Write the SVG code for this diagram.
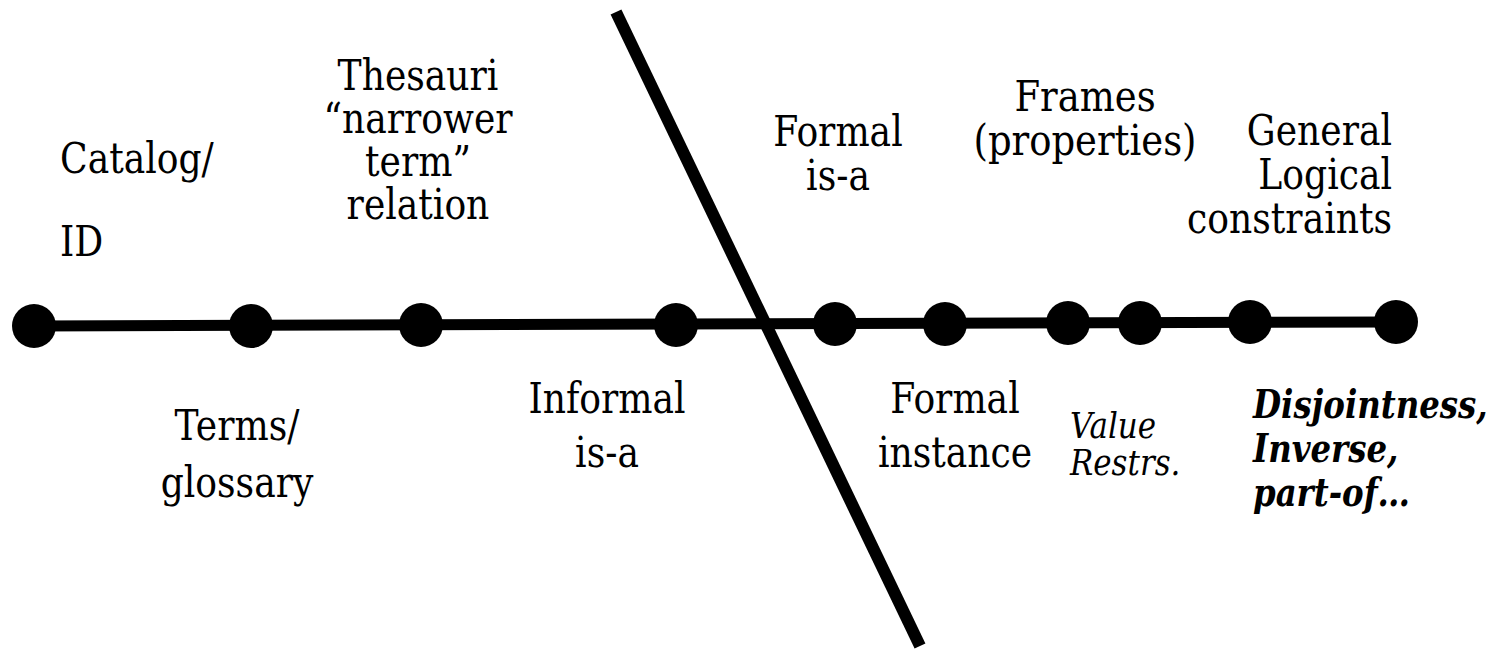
<svg xmlns="http://www.w3.org/2000/svg" width="1489" height="651" viewBox="0 0 1489 651">
  <style>
    text { font-family: "DejaVu Serif", serif; fill: #000; }
    .lbl { font-size: 42px; }
    .it { font-style: italic; font-size: 36px; }
    .bi { font-style: italic; font-weight: bold; font-size: 40px; }
    .dot { fill: #000; }
  </style>
  <rect width="1489" height="651" fill="#fff"/>

  <!-- spectrum line and the dividing stroke across it -->
  <g id="connectors">
    <line x1="34" y1="326" x2="1396" y2="322" stroke="#000" stroke-width="11"/>
    <line x1="616" y1="12" x2="920" y2="646" stroke="#000" stroke-width="12"/>
  </g>

  <!-- labels are drawn horizontally condensed to a Times-like width -->
  <g id="node-catalog">
    <circle class="dot" cx="34" cy="326" r="22"/>
    <g transform="translate(60,0) scale(0.86,1)"><text class="lbl"><tspan x="0" y="173">Catalog/</tspan><tspan x="0" y="256">ID</tspan></text></g>
  </g>
  <g id="node-terms">
    <circle class="dot" cx="251" cy="326" r="22"/>
    <g transform="translate(237,0) scale(0.86,1)"><text class="lbl" text-anchor="middle"><tspan x="0" y="440">Terms/</tspan><tspan x="0" y="497">glossary</tspan></text></g>
  </g>
  <g id="node-thesauri">
    <circle class="dot" cx="421" cy="325" r="22"/>
    <g transform="translate(418,0) scale(0.86,1)"><text class="lbl" text-anchor="middle"><tspan x="0" y="90">Thesauri</tspan><tspan x="0" y="133">“narrower</tspan><tspan x="0" y="176">term”</tspan><tspan x="0" y="219">relation</tspan></text></g>
  </g>
  <g id="node-informal-isa">
    <circle class="dot" cx="676" cy="325" r="22"/>
    <g transform="translate(607,0) scale(0.86,1)"><text class="lbl" text-anchor="middle"><tspan x="0" y="413">Informal</tspan><tspan x="0" y="467">is-a</tspan></text></g>
  </g>
  <g id="node-formal-isa">
    <circle class="dot" cx="835" cy="324" r="22"/>
    <g transform="translate(838,0) scale(0.86,1)"><text class="lbl" text-anchor="middle"><tspan x="0" y="146">Formal</tspan><tspan x="0" y="190">is-a</tspan></text></g>
  </g>
  <g id="node-formal-instance">
    <circle class="dot" cx="945" cy="324" r="22"/>
    <g transform="translate(955,0) scale(0.86,1)"><text class="lbl" text-anchor="middle"><tspan x="0" y="413">Formal</tspan><tspan x="0" y="467">instance</tspan></text></g>
  </g>
  <g id="node-frames">
    <circle class="dot" cx="1068" cy="323" r="22"/>
    <g transform="translate(1085,0) scale(0.88,1)"><text class="lbl" text-anchor="middle"><tspan x="0" y="111">Frames</tspan><tspan x="0" y="155">(properties)</tspan></text></g>
  </g>
  <g id="node-value-restrs">
    <circle class="dot" cx="1140" cy="323" r="22"/>
    <g transform="translate(1070,0) scale(0.86,1)"><text class="it"><tspan x="0" y="438">Value</tspan><tspan x="0" y="475">Restrs.</tspan></text></g>
  </g>
  <g id="node-general-logical">
    <circle class="dot" cx="1250" cy="322" r="22"/>
    <g transform="translate(1392,0) scale(0.86,1)"><text class="lbl" text-anchor="end"><tspan x="0" y="145">General</tspan><tspan x="0" y="189">Logical</tspan><tspan x="0" y="233">constraints</tspan></text></g>
  </g>
  <g id="node-disjointness">
    <circle class="dot" cx="1396" cy="322" r="22"/>
    <g transform="translate(1253,0) scale(0.81,1)"><text class="bi"><tspan x="0" y="418">Disjointness,</tspan><tspan x="0" y="462">Inverse,</tspan><tspan x="0" y="506">part-of…</tspan></text></g>
  </g>
</svg>
